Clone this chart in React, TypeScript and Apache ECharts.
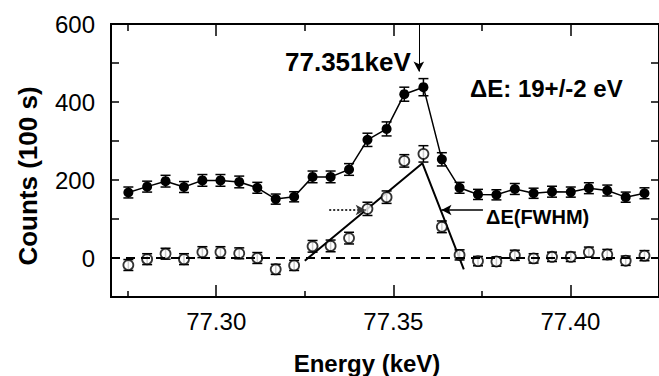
import React, { useEffect, useRef } from "react";
import * as echarts from "echarts";

const energies = [
  77.2752, 77.2805, 77.2857, 77.2909, 77.2961, 77.3012, 77.3065, 77.3116, 77.3168, 77.322,
  77.3272, 77.3323, 77.3375, 77.3427, 77.3481, 77.3531, 77.3585, 77.3637, 77.3687, 77.3739,
  77.3791, 77.3843, 77.3896, 77.3948, 77.4001, 77.4052, 77.4104, 77.4156, 77.4209,
];
const filledCounts = [
  168, 183, 197, 182, 199, 199, 195, 180, 151, 157, 208, 208, 227, 303, 331, 420, 438, 253, 180,
  163, 162, 177, 166, 170, 169, 179, 173, 156, 166,
];
const filledErrors = [
  14, 14, 15, 14, 15, 15, 15, 14, 13, 13, 15, 15, 15, 17, 18, 18, 22, 17, 14, 13, 13, 14, 13, 14,
  13, 14, 14, 13, 14,
];
const openCounts = [
  -18, -3, 11, -3, 15, 15, 12, 0, -29, -19, 30, 31, 51, 126, 156, 249, 267, 80, 8, -8, -9, 7, -1,
  3, 3, 15, 9, -7, 6,
];
const openErrors = [
  14, 14, 14, 14, 14, 14, 14, 14, 13, 13, 15, 15, 15, 17, 16, 16, 21, 15, 13, 12, 12, 13, 12, 12,
  12, 13, 13, 12, 13,
];
const fitEnergies = [77.325, 77.3582, 77.3699];
const fitCounts = [-7, 243, -29];
const peakArrowEnergy = 77.3572;
const peakArrowCounts = [600, 478];
const leftArrowEnergies = [77.3319, 77.3422];
const rightArrowEnergies = [77.3753, 77.3636];
const fwhmArrowCounts = 123;
const xMajorTicks = [77.3, 77.35, 77.4];
const xMinorTicks = [77.275, 77.325, 77.375];
const yLabelValues = [0, 200, 400, 600];

const FONT = "'Liberation Sans', Arial, Helvetica, sans-serif";
const X_MIN = 77.2703;
const X_MAX = 77.425;

export default function App() {
  const ref = useRef<HTMLDivElement>(null);
  useEffect(() => {
    document.body.style.margin = "0";
    const chart = echarts.init(ref.current!, null, { renderer: "svg" });
    const errorBar = (counts: number[], errs: number[]) => ({
      type: "custom",
      xAxisIndex: 0,
      yAxisIndex: 0,
      z: 2,
      silent: true,
      data: energies.map((e, i) => [e, counts[i], errs[i]]),
      encode: { x: 0, y: 1 },
      renderItem: (_p: any, api: any) => {
        const x = api.value(0);
        const y = api.value(1);
        const er = api.value(2);
        const t = api.coord([x, y + er]);
        const b = api.coord([x, y - er]);
        const hw = 5;
        const st = { stroke: "#000", lineWidth: 1.5 };
        return {
          type: "group",
          children: [
            { type: "line", shape: { x1: t[0], y1: t[1], x2: b[0], y2: b[1] }, style: st },
            { type: "line", shape: { x1: t[0] - hw, y1: t[1], x2: t[0] + hw, y2: t[1] }, style: st },
            { type: "line", shape: { x1: b[0] - hw, y1: b[1], x2: b[0] + hw, y2: b[1] }, style: st },
          ],
        };
      },
    });
    const xBase = {
      type: "value",
      min: X_MIN,
      max: X_MAX,
      gridIndex: 0,
      splitLine: { show: false },
      axisLine: { show: true, onZero: false, lineStyle: { color: "#000", width: 2 } },
    };
    const option: any = {
      animation: false,
      backgroundColor: "#fff",
      grid: { left: 111, top: 24, right: 0, bottom: 79, containLabel: false },
      xAxis: [
        {
          ...xBase,
          position: "bottom",
          axisTick: { inside: true, length: 12, customValues: xMajorTicks, lineStyle: { color: "#000", width: 1.5 } },
          axisLabel: {
            customValues: xMajorTicks,
            formatter: (v: number) => v.toFixed(2),
            color: "#000",
            fontSize: 24,
            fontFamily: FONT,
            margin: 12,
          },
        },
        {
          ...xBase,
          position: "bottom",
          axisTick: { inside: true, length: 6, customValues: xMinorTicks, lineStyle: { color: "#000", width: 1.5 } },
          axisLabel: { show: false },
        },
        {
          ...xBase,
          position: "top",
          axisTick: { inside: true, length: 12, customValues: xMajorTicks, lineStyle: { color: "#000", width: 1.5 } },
          axisLabel: { show: false },
        },
        {
          ...xBase,
          position: "top",
          axisTick: { inside: true, length: 7, customValues: xMinorTicks, lineStyle: { color: "#000", width: 1.5 } },
          axisLabel: { show: false },
        },
      ],
      yAxis: [
        {
          type: "value",
          min: -100,
          max: 600,
          interval: 100,
          position: "left",
          splitLine: { show: false },
          axisLine: { show: true, onZero: false, lineStyle: { color: "#000", width: 2 } },
          axisTick: { inside: true, length: 8, lineStyle: { color: "#000", width: 1.5 } },
          axisLabel: {
            formatter: (v: number) => (yLabelValues.includes(v) ? String(v) : ""),
            color: "#000",
            fontSize: 24,
            fontFamily: FONT,
            margin: 16,
          },
        },
        {
          type: "value",
          min: -100,
          max: 600,
          interval: 100,
          position: "right",
          splitLine: { show: false },
          axisLine: { show: true, onZero: false, lineStyle: { color: "#000", width: 2 } },
          axisTick: { inside: true, length: 8, lineStyle: { color: "#000", width: 1.5 } },
          axisLabel: { show: false },
        },
      ],
      series: [
        {
          type: "line",
          name: "zero",
          data: [],
          markLine: {
            silent: true,
            symbol: "none",
            label: { show: false },
            lineStyle: { color: "#000", width: 2, type: [9, 6] },
            data: [{ yAxis: 0 }],
          },
        },
        {
          type: "line",
          name: "fit",
          data: fitEnergies.map((e, i) => [e, fitCounts[i]]),
          symbol: "none",
          lineStyle: { color: "#000", width: 2 },
          z: 3,
        },
        errorBar(filledCounts, filledErrors),
        errorBar(openCounts, openErrors),
        {
          type: "line",
          name: "filled",
          data: energies.map((e, i) => [e, filledCounts[i]]),
          symbol: "circle",
          symbolSize: 10,
          itemStyle: { color: "#000" },
          lineStyle: { color: "#000", width: 1.5 },
          z: 4,
        },
        {
          type: "scatter",
          name: "open",
          data: energies.map((e, i) => [e, openCounts[i]]),
          symbol: "circle",
          symbolSize: 10,
          itemStyle: { color: "#fff", borderColor: "#000", borderWidth: 1.8 },
          z: 4,
        },
        {
          type: "line",
          name: "annotations",
          data: [],
          markLine: {
            silent: true,
            label: { show: false },
            symbol: ["none", "arrow"],
            symbolSize: [8, 10],
            data: [
              [
                { coord: [peakArrowEnergy, peakArrowCounts[0]], lineStyle: { color: "#000", width: 1, type: "solid" } },
                { coord: [peakArrowEnergy, peakArrowCounts[1]] },
              ],
              [
                { coord: [leftArrowEnergies[0], fwhmArrowCounts], lineStyle: { color: "#333", width: 2, type: "dotted" } },
                { coord: [leftArrowEnergies[1], fwhmArrowCounts] },
              ],
              [
                { coord: [rightArrowEnergies[0], fwhmArrowCounts], lineStyle: { color: "#000", width: 1.5, type: "solid" } },
                { coord: [rightArrowEnergies[1], fwhmArrowCounts] },
              ],
            ],
          },
        },
      ],
      graphic: [
        {
          type: "text",
          x: 285,
          y: 62,
          style: { text: "77.351keV", font: `bold 26px ${FONT}`, fill: "#000", textVerticalAlign: "middle" },
        },
        {
          type: "text",
          x: 470,
          y: 88,
          style: { text: "\u0394E: 19+/-2 eV", font: `bold 24px ${FONT}`, fill: "#000", textVerticalAlign: "middle" },
        },
        {
          type: "text",
          x: 486,
          y: 217,
          style: { text: "\u0394E(FWHM)", font: `bold 20px ${FONT}`, fill: "#000", textVerticalAlign: "middle" },
        },
        {
          type: "text",
          x: 367,
          y: 363,
          style: {
            text: "Energy (keV)",
            font: `bold 24px ${FONT}`,
            fill: "#000",
            textAlign: "center",
            textVerticalAlign: "middle",
          },
        },
        {
          type: "text",
          x: 28,
          y: 176,
          rotation: Math.PI / 2,
          style: {
            text: "Counts (100 s)",
            font: `bold 26px ${FONT}`,
            fill: "#000",
            textAlign: "center",
            textVerticalAlign: "middle",
          },
        },
      ],
    };
    chart.setOption(option);
    return () => chart.dispose();
  }, []);
  return <div ref={ref} style={{ width: 659, height: 376 }} />;
}
